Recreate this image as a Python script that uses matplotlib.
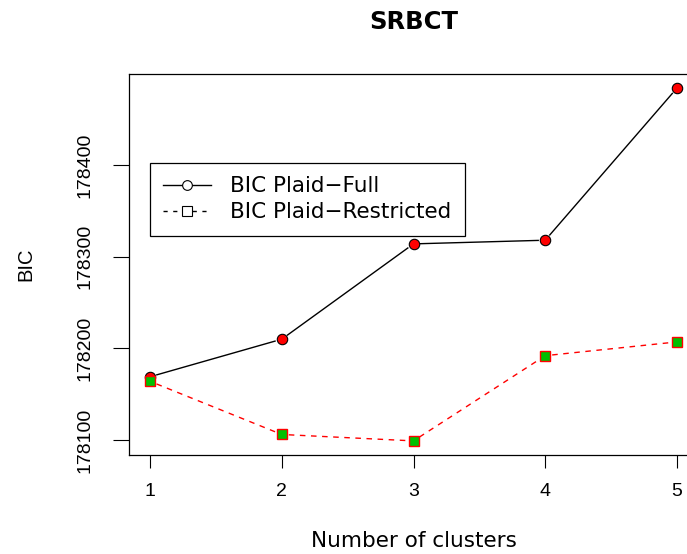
import numpy as np
import matplotlib.pyplot as plt
from matplotlib.lines import Line2D

plt.rcParams['font.family'] = ['DejaVu Sans']
plt.rcParams['lines.scale_dashes'] = False

clusters = [1, 2, 3, 4, 5]
bic_full = [178169, 178210, 178314, 178318, 178484]
bic_restricted = [178164, 178106, 178099, 178192, 178207]
y_ticks = [178100, 178200, 178300, 178400]

W, H = 687, 554
fig = plt.figure(figsize=(W / 100, H / 100), dpi=100)
ax = fig.add_axes([129 / W, 99 / H, (698 - 129) / W, (455 - 74) / H])

# axis limits: data range padded by 4% on each side
xs = np.array(clusters, dtype=float)
allv = np.array(bic_full + bic_restricted, dtype=float)
xpad = (xs.max() - xs.min()) * 0.04
ypad = (allv.max() - allv.min()) * 0.04
ax.set_xlim(xs.min() - xpad, xs.max() + xpad)
ax.set_ylim(allv.min() - ypad, allv.max() + ypad)


def gapped_line(x, y, gap_px=7, **kw):
    # lines stop short of each point marker
    pts = ax.transData.transform(np.column_stack([x, y]))
    inv = ax.transData.inverted()
    for p0, p1 in zip(pts[:-1], pts[1:]):
        d = p1 - p0
        n = np.hypot(*d)
        if n <= 2 * gap_px:
            continue
        u = d / n
        a = inv.transform(p0 + u * gap_px)
        b = inv.transform(p1 - u * gap_px)
        ax.plot([a[0], b[0]], [a[1], b[1]], **kw)


gapped_line(clusters, bic_full, color='black', lw=1.0)
gapped_line(clusters, bic_restricted, color='red', lw=1.0, linestyle=(0, (4, 4)))
ax.plot(clusters, bic_full, linestyle='none', marker='o', ms=7.5,
        mfc='red', mec='black', mew=0.8)
ax.plot(clusters, bic_restricted, linestyle='none', marker='s', ms=6.5,
        mfc='#00c000', mec='red', mew=1.0)

ax.set_xticks(clusters)
ax.set_xticklabels([str(c) for c in clusters], fontfamily='Liberation Sans')
ax.set_yticks(y_ticks)
ax.set_yticklabels([str(v) for v in y_ticks], rotation=90, va='center',
                   fontfamily='Liberation Sans')
ax.tick_params(axis='both', direction='out', width=0.8, labelsize=14)
ax.tick_params(axis='x', length=9.5, pad=10.5)
ax.tick_params(axis='y', length=11.5, pad=14)
for s in ax.spines.values():
    s.set_linewidth(0.9)

fig.text(413.5 / W, 1 - 22 / H, 'SRBCT', ha='center', va='center',
         fontsize=17.5, fontweight='bold')
fig.text(413.5 / W, 1 - 541 / H, 'Number of clusters', ha='center',
         va='center', fontsize=15.5)
fig.text(26 / W, 1 - 264 / H, 'BIC', ha='center', va='center',
         fontsize=14.5, rotation=90, fontfamily='Liberation Sans')

handles = [
    Line2D([], [], color='black', lw=1.0, marker='o', ms=7, mfc='white',
           mec='black', mew=0.8),
    Line2D([], [], color='black', lw=1.0, linestyle=(0, (3, 4)), marker='s',
           ms=6.5, mfc='white', mec='black', mew=0.8),
]
leg = ax.legend(handles, ['BIC Plaid\u2212Full', 'BIC Plaid\u2212Restricted'],
                loc='upper left', bbox_to_anchor=(150 / W, 1 - 163 / H),
                bbox_transform=fig.transFigure, fontsize=15.5, frameon=True,
                fancybox=False, edgecolor='black', framealpha=1,
                handlelength=2.2, handletextpad=0.9, borderpad=0.62,
                labelspacing=0.28, borderaxespad=0)
leg.get_frame().set_linewidth(0.9)

fig.savefig('out.png', dpi=100)
